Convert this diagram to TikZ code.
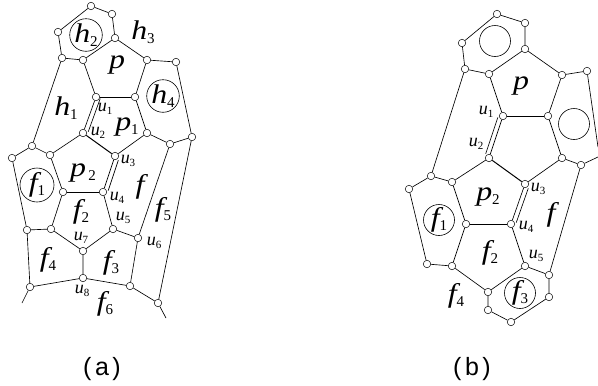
\documentclass[tikz,border=0pt]{standalone}
\usepackage{fontspec}
\setmainfont{Liberation Serif}
\setsansfont{Liberation Sans}
\newfontfamily\widefont[FakeStretch=1.18]{Liberation Serif}
\usetikzlibrary{calc,positioning}

% letter with an upright subscript
\newcommand{\nmbig}[2]{{\widefont\fontsize{27}{27}\selectfont\itshape #1}{\fontsize{15}{15}\selectfont\raisebox{-4pt}{#2}}}
\newcommand{\nmu}[1]{{\fontsize{18}{18}\selectfont\itshape u}{\fontsize{11}{11}\selectfont\raisebox{-2.5pt}{#1}}}

\tikzset{
  vtx/.style={circle, draw, fill=white, inner sep=0pt, minimum size=7.5pt, line width=0.5pt},
  edge/.style={line width=0.65pt},
  bold/.style={line width=1pt},
  lab/.style={inner sep=0pt},
  ring/.style={circle, draw, inner sep=0pt, minimum size=31pt, line width=0.6pt},
  capt/.style={inner sep=0pt, font=\sffamily\fontsize{25}{25}\selectfont}
}

\begin{document}
\begin{tikzpicture}[x=1pt,y=-1pt]
\useasboundingbox (0,0) rectangle (598,386);

% Vertices of (a)
\node[vtx] (a1) at (91,6) {};
\node[vtx] (a2) at (112,14) {};
\node[vtx] (a3) at (115,38) {};
\node[vtx] (a4) at (83,60) {};
\node[vtx] (a5) at (62,58) {};
\node[vtx] (a6) at (58,32) {};
\node[vtx] (a7) at (147,60) {};
\node[vtx] (a8) at (176,62) {};
\node[vtx] (au1) at (96,97) {};
\node[vtx] (a9) at (135,97) {};
\node[vtx] (au2) at (83,133) {};
\node[vtx] (a10) at (147,133) {};
\node[vtx] (a11) at (192,137) {};
\node[vtx] (a12) at (170,144) {};
\node[vtx] (a13) at (32,146) {};
\node[vtx] (a14) at (50,155) {};
\node[vtx] (au3) at (115,156) {};
\node[vtx] (a15) at (12,158) {};
\node[vtx] (a16) at (63,192) {};
\node[vtx] (au4) at (103,192) {};
\node[vtx] (a17) at (27,230) {};
\node[vtx] (a18) at (51,229) {};
\node[vtx] (au5) at (113,229) {};
\node[vtx] (au6) at (138,238) {};
\node[vtx] (au7) at (83,251) {};
\node[vtx] (au8) at (83,278) {};
\node[vtx] (a19) at (30,287) {};
\node[vtx] (a20) at (130,286) {};
\node[vtx] (a21) at (158,303) {};
\coordinate (aend1) at (22,303);
\coordinate (aend2) at (166,318);

% Edges of (a)
\draw[edge] (a1) -- (a2) -- (a3) -- (a4) -- (a5) -- (a6) -- (a1);
\draw[edge] (a3) -- (a7) -- (a9);
\draw[edge] (a7) -- (a8) -- (a11) -- (a12) -- (a10) -- (a9);
\draw[bold] (au1) -- (a9);
\draw[edge] (a4) -- (au1) -- (au2);
\draw[edge] (a5) -- (a13) -- (a15) -- (a17) -- (a19) -- (aend1);
\draw[edge] (a13) -- (a14) -- (au2);
\draw[bold] (au2) -- (au3);
\draw[edge] (au3) -- (a10);
\draw[edge] (a14) -- (a16) -- (a18) -- (a17);
\draw[bold] (a16) -- (au4);
\draw[edge] (au3) -- (au4) -- (au5) -- (au6) -- (a12);
\draw[edge] (a18) -- (au7) -- (au5);
\draw[edge] (au7) -- (au8) -- (a19);
\draw[edge] (au8) -- (a20) -- (au6);
\draw[edge] (a20) -- (a21) -- (a11);
\draw[edge] (a21) -- (aend2);

% Second lines of the double edges of (a)
\draw[edge, shorten >=3pt] ($(au1)!4.5pt!90:(au2)$) -- ($(au2)!4.5pt!-90:(au1)$);
\draw[edge, shorten <=3pt, shorten >=3pt] ($(au3)!4.5pt!90:(au4)$) -- ($(au4)!4.5pt!-90:(au3)$);

% Labels of (a)
\node[ring] (ah2) at (86,35) {\nmbig{h}{2}};
\node[lab] (ah3) at (143,32) {\nmbig{h}{3}};
\node[lab] (ap) at (117,65) {\nmbig{p}{}};
\node[ring] (ah4) at (163,96) {\nmbig{h}{4}};
\node[lab] (ah1) at (66,108) {\nmbig{h}{1}};
\node[lab] (alu1) at (105,109) {\nmu{1}};
\node[lab] (alu2) at (98,133) {\nmu{2}};
\node[lab] (ap1) at (127,127) {\nmbig{p}{1}};
\node[lab] (alu3) at (128,161) {\nmu{3}};
\node[lab] (ap2) at (83,173) {\nmbig{p}{\,2}};
\node[ring, minimum size=34pt] (af1) at (37,185) {\nmbig{f}{1}};
\node[lab] (af2) at (81,212) {\nmbig{f}{2}};
\node[lab] (af) at (140,187) {\nmbig{f}{}};
\node[lab] (af5) at (163,210) {\nmbig{f}{5}};
\node[lab] (alu4) at (117,198) {\nmu{4}};
\node[lab] (alu5) at (123,218) {\nmu{5}};
\node[lab] (alu6) at (154,243) {\nmu{6}};
\node[lab] (alu7) at (81,238) {\nmu{7}};
\node[lab] (af4) at (48,260) {\nmbig{f}{4}};
\node[lab] (af3) at (111,263) {\nmbig{f}{3}};
\node[lab] (alu8) at (82,291) {\nmu{8}};
\node[lab] (af6) at (105,304) {\nmbig{f}{6}};

% Vertices of (b)
\node[vtx] (b1) at (497,14) {};
\node[vtx] (b2) at (525,23) {};
\node[vtx] (b3) at (525,49) {};
\node[vtx] (b4) at (462,43) {};
\node[vtx] (b5) at (465,69) {};
\node[vtx] (b6) at (489,74) {};
\node[vtx] (b7) at (562,75) {};
\node[vtx] (b8) at (587,71) {};
\node[vtx] (bu1) at (503,116) {};
\node[vtx] (b9) at (548,116) {};
\node[vtx] (bu2) at (489,158) {};
\node[vtx] (b10) at (562,158) {};
\node[vtx] (b11) at (581,165) {};
\node[vtx] (b12) at (431,176) {};
\node[vtx] (b13) at (452,182) {};
\node[vtx] (bu3) at (525,184) {};
\node[vtx] (b14) at (409,189) {};
\node[vtx] (b15) at (466,224) {};
\node[vtx] (bu4) at (511,224) {};
\node[vtx] (b16) at (427,264) {};
\node[vtx] (b17) at (452,266) {};
\node[vtx] (bu5) at (525,266) {};
\node[vtx] (b18) at (549,275) {};
\node[vtx] (b19) at (488,292) {};
\node[vtx] (b20) at (549,297) {};
\node[vtx] (b21) at (488,310) {};
\node[vtx] (b22) at (511,322) {};
\coordinate (bend1) at (598,147);
\coordinate (bend2) at (598,157);

% Edges of (b)
\draw[edge] (b1) -- (b2) -- (b3) -- (b6) -- (b5) -- (b4) -- (b1);
\draw[edge] (b3) -- (b7) -- (b9);
\draw[edge] (b7) -- (b8) -- (bend1);
\draw[bold] (bu1) -- (b9);
\draw[edge] (b6) -- (bu1) -- (bu2);
\draw[edge] (b9) -- (b10) -- (b11) -- (bend2);
\draw[edge] (b5) -- (b12) -- (b14) -- (b16) -- (b17);
\draw[edge] (b12) -- (b13) -- (bu2);
\draw[bold] (bu2) -- (bu3);
\draw[edge] (bu3) -- (b10);
\draw[edge] (b13) -- (b15) -- (b17);
\draw[bold] (b15) -- (bu4);
\draw[edge] (bu3) -- (bu4) -- (bu5) -- (b18) -- (b11);
\draw[edge] (b17) -- (b19) -- (bu5);
\draw[edge] (b19) -- (b21) -- (b22) -- (b20) -- (b18);

% Second lines of the double edges of (b)
\draw[edge, shorten <=3pt, shorten >=3pt] ($(bu1)!4.5pt!-90:(bu2)$) -- ($(bu2)!4.5pt!90:(bu1)$);
\draw[edge, shorten <=3pt, shorten >=3pt] ($(bu3)!4.5pt!90:(bu4)$) -- ($(bu4)!4.5pt!-90:(bu3)$);

% Labels of (b)
\node[ring] (bh2) at (495,41) {};
\node[ring] (bh4) at (574,124) {};
\node[lab] (bp) at (521,86) {\nmbig{p}{}};
\node[lab] (blu1) at (486,112) {\nmu{1}};
\node[lab] (blu2) at (476,144) {\nmu{2}};
\node[lab] (bp2) at (488,197) {\nmbig{p}{2}};
\node[lab] (blu3) at (538,189) {\nmu{3}};
\node[ring] (bf1) at (439,220) {\nmbig{f}{1}};
\node[lab] (blu4) at (526,227) {\nmu{4}};
\node[lab] (bf) at (551,215) {\nmbig{f}{}};
\node[lab] (bf2) at (490,253) {\nmbig{f}{2}};
\node[lab] (blu5) at (536,256) {\nmu{5}};
\node[lab] (bf4) at (456,296) {\nmbig{f}{4}};
\node[ring] (bf3) at (520,293) {\nmbig{f}{3}};

% Captions
\node[capt] (capa) at (102,369) {(\hspace{3.5pt}a\hspace{3.5pt})};
\node[capt] (capb) at (472,369) {(\hspace{3.5pt}b\hspace{3.5pt})};

\end{tikzpicture}
\end{document}
